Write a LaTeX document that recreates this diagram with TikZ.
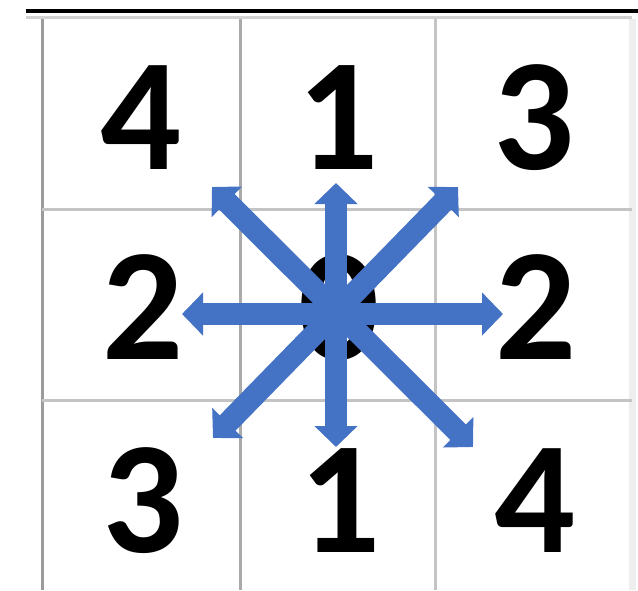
\documentclass[tikz,border=0pt]{standalone}
\usepackage{fontspec}
\setmainfont{Carlito}
\usetikzlibrary{arrows.meta}
\definecolor{ArrowBlue}{RGB}{68,114,196}
\definecolor{GridDark}{RGB}{155,155,155}
\definecolor{GridLight}{RGB}{196,196,196}
\definecolor{RuleGray}{RGB}{210,210,210}
\definecolor{EdgeGray}{RGB}{238,238,238}

\begin{document}
\begin{tikzpicture}[
x=1pt,y=-1pt,
digit/.style={
    inner sep=0pt,
    anchor=base,
    font=\fontsize{160}{160}\selectfont\bfseries
},
gridline/.style={line width=3pt,draw=GridLight},
arrow/.style={{Triangle[width=42pt,length=21pt]}-{Triangle[width=42pt,length=21pt]},line width=22pt,draw=ArrowBlue,fill=ArrowBlue}
]
\useasboundingbox (0,0) rectangle (638,590);

% rules and grid
\draw[line width=3.5pt] (26,11) -- (638,11);
\draw[line width=3pt,draw=RuleGray] (26,17.5) -- (632,17.5);
\draw[line width=7pt,draw=EdgeGray] (632,19) -- (632,590);
\draw[gridline,draw=GridDark] (42,19) -- (42,590);
\draw[gridline,draw=GridDark!85] (240,19) -- (240,590);
\draw[gridline] (435,19) -- (435,590);
\draw[gridline] (42,209) -- (632,209);
\draw[gridline] (42,400) -- (632,400);

% numbers
\node[digit] (tl) at (141,169) {4};
\node[digit] (tc) at (338,169) {1};
\node[digit] (tr) at (534,169) {3};
\node[digit] (ml) at (143,359) {2};
\node[digit] (mc) at (339,359) {0};
\node[digit] (mr) at (536,359) {2};
\node[digit] (bl) at (143,552) {3};
\node[digit] (bc) at (340,552) {1};
\node[digit] (br) at (535,552) {4};

% arrow ends
\coordinate (n) at (336,183);
\coordinate (s) at (336,447);
\coordinate (w) at (182,314);
\coordinate (e) at (503,314);
\coordinate (nw) at (212,187);
\coordinate (se) at (473,447);
\coordinate (ne) at (458,187);
\coordinate (sw) at (213,438);

\draw[arrow] (nw) -- (se);
\draw[arrow] (ne) -- (sw);
\draw[arrow] (w) -- (e);
\draw[arrow] (n) -- (s);

\end{tikzpicture}
\end{document}
